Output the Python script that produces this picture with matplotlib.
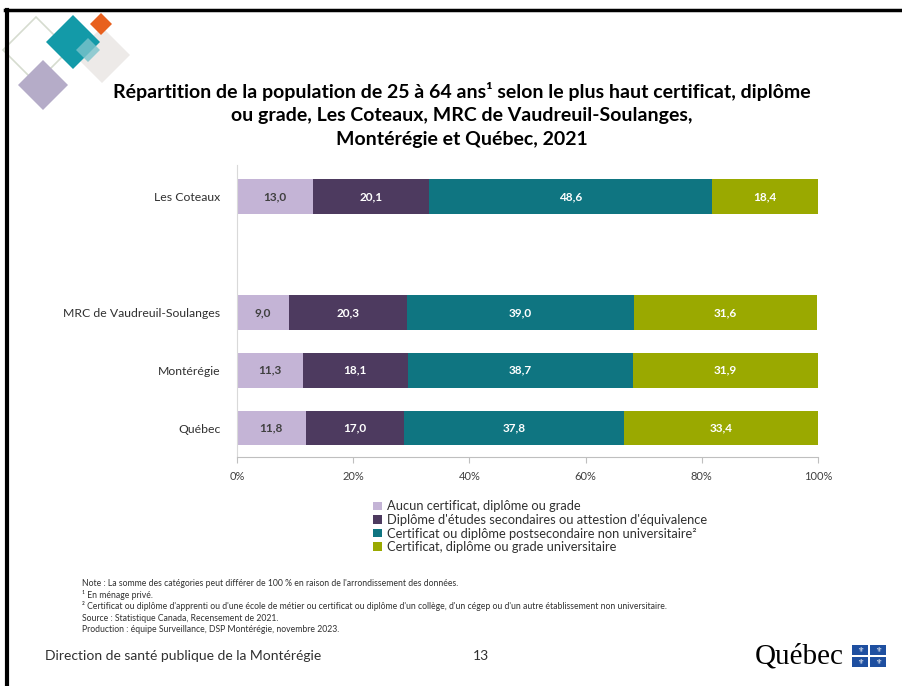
import matplotlib
matplotlib.use("Agg")
import matplotlib.pyplot as plt
from matplotlib.patches import Polygon, Rectangle
from matplotlib.lines import Line2D

plt.rcParams["font.family"] = ["Lato", "DejaVu Sans"]

REGIONS = ["Québec", "Montérégie", "MRC de Vaudreuil-Soulanges", "Les Coteaux"]
POSITIONS = [0, 1, 2, 4]

CATEGORIES = [
    "Aucun certificat, diplôme ou grade",
    "Diplôme d'études secondaires ou attestion d'équivalence",
    "Certificat ou diplôme postsecondaire non universitaire²",
    "Certificat, diplôme ou grade universitaire",
]
aucun = [11.8, 11.3, 9.0, 13.0]
secondaire = [17.0, 18.1, 20.3, 20.1]
postsec = [37.8, 38.7, 39.0, 48.6]
universitaire = [33.4, 31.9, 31.6, 18.4]
SERIES = [aucun, secondaire, postsec, universitaire]

COLORS = ["#c4b4d6", "#4d3a5f", "#0f7581", "#9aa900"]
LABEL_COLORS = ["#404040", "white", "white", "white"]

XTICKS = [0, 20, 40, 60, 80, 100]

W, H = 902, 686
fig = plt.figure(figsize=(W / 100, H / 100), dpi=100)


def fx(px):
    return px / W


def fy(py):
    return 1 - py / H


# slide border
fig.add_artist(Line2D([fx(5), fx(902)], [fy(10), fy(10)], color="black", lw=2.5))
fig.add_artist(Line2D([fx(6.5), fx(6.5)], [fy(10), fy(686)], color="black", lw=3))


def diamond(cx, cy, r, **kw):
    pts = [(fx(cx), fy(cy - r)), (fx(cx + r), fy(cy)), (fx(cx), fy(cy + r)), (fx(cx - r), fy(cy))]
    fig.add_artist(Polygon(pts, closed=True, transform=fig.transFigure, **kw))


# logo in the corner
diamond(36, 50, 33, facecolor="none", edgecolor="#d6dccf", lw=1.2)
diamond(43, 85, 25, facecolor="#b5acc8", edgecolor="none")
diamond(102, 55, 28, facecolor="#ebe8e6", edgecolor="none", alpha=0.9)
diamond(73, 42, 27, facecolor="#139aa8", edgecolor="none")
diamond(88, 50, 12, facecolor="#7cc4cc", edgecolor="none", alpha=0.8)
diamond(101, 24, 11, facecolor="#e8601e", edgecolor="none")

fig.text(fx(462), fy(115),
         "Répartition de la population de 25 à 64 ans¹ selon le plus haut certificat, diplôme\n"
         "ou grade, Les Coteaux, MRC de Vaudreuil-Soulanges,\n"
         "Montérégie et Québec, 2021",
         ha="center", va="center", fontsize=14, fontweight="bold", color="black",
         linespacing=1.45)

ax = fig.add_axes([fx(237), fy(457), fx(818) - fx(237), fy(165) - fy(457)])

left = [0.0] * len(REGIONS)
for vals, color, lc in zip(SERIES, COLORS, LABEL_COLORS):
    bars = ax.barh(POSITIONS, vals, left=left, height=0.6, color=color, edgecolor="none")
    for b, v in zip(bars, vals):
        ax.text(b.get_x() + b.get_width() / 2, b.get_y() + b.get_height() / 2,
                f"{v:.1f}".replace(".", ","), ha="center", va="center",
                fontsize=8.5, fontweight="bold", color=lc)
    left = [l + v for l, v in zip(left, vals)]

ax.set_xlim(0, 100)
ax.set_ylim(-0.5, 4.55)
ax.set_xticks(XTICKS)
ax.set_xticklabels([f"{t}%" for t in XTICKS], fontsize=8, color="#404040")
ax.set_yticks(POSITIONS)
ax.set_yticklabels(REGIONS, fontsize=8.8, color="#303030")
ax.tick_params(axis="y", length=0, pad=12)
ax.tick_params(axis="x", length=4, color="#bfbfbf", pad=6)
for s in ["top", "right"]:
    ax.spines[s].set_visible(False)
ax.spines["left"].set_color("#d9d9d9")
ax.spines["bottom"].set_color("#bfbfbf")

handles = [Rectangle((0, 0), 1, 1, facecolor=c, edgecolor="none") for c in COLORS]
fig.legend(handles, CATEGORIES, loc="upper left", bbox_to_anchor=(fx(367), fy(494)),
           frameon=False, fontsize=9.3, handlelength=0.65, handleheight=0.65,
           handletextpad=0.4, labelspacing=0.12, borderpad=0, labelcolor="#303030")

notes = [
    "Note : La somme des catégories peut différer de 100 % en raison de l'arrondissement des données.",
    "¹ En ménage privé.",
    "² Certificat ou diplôme d'apprenti ou d'une école de métier ou certificat ou diplôme d'un collège, d'un cégep ou d'un autre établissement non universitaire.",
    "Source : Statistique Canada, Recensement de 2021.",
    "Production : équipe Surveillance, DSP Montérégie, novembre 2023.",
]
for i, line in enumerate(notes):
    fig.text(fx(82), fy(583 + i * 11.7), line, fontsize=6.2, color="#303030", va="center")

fig.text(fx(45), fy(656), "Direction de santé publique de la Montérégie",
         fontsize=10, color="#303030", va="center")
fig.text(fx(473), fy(656), "13", fontsize=10, color="#303030", va="center")

# Québec wordmark
fig.text(fx(755), fy(657), "Québec", fontsize=21, family="Liberation Serif",
         color="black", va="center")
for (x0, y0) in [(852, 645), (870, 645), (852, 657), (870, 657)]:
    fig.add_artist(Rectangle((fx(x0), fy(y0 + 10)), fx(16), 10 / H,
                             transform=fig.transFigure, facecolor="#1e4fa0", edgecolor="none"))
    fig.text(fx(x0 + 8), fy(y0 + 5), "⚜", fontsize=5, color="white",
             family="DejaVu Sans", ha="center", va="center")

fig.savefig("out.png", dpi=100)
